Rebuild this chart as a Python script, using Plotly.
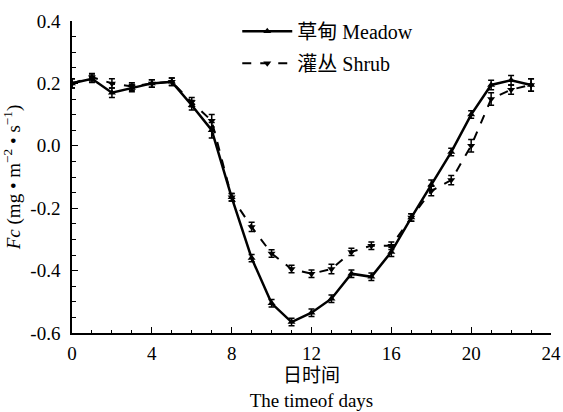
import plotly.graph_objects as go

hours = list(range(24))
meadow = [0.20, 0.215, 0.17, 0.185, 0.20, 0.205, 0.13, 0.05, -0.165, -0.36, -0.505, -0.565, -0.535, -0.49, -0.41, -0.42,
          -0.34, -0.23, -0.125, -0.02, 0.10, 0.195, 0.21, 0.195]
meadow_err = [0.015, 0.012, 0.015, 0.012, 0.012, 0.012, 0.015, 0.025, 0.012, 0.012, 0.012, 0.012, 0.012, 0.012, 0.012, 0.012,
              0.015, 0.012, 0.015, 0.012, 0.012, 0.015, 0.015, 0.02]
shrub = [0.20, 0.22, 0.20, 0.19, 0.20, 0.205, 0.14, 0.08, -0.165, -0.26, -0.345, -0.395, -0.41, -0.395, -0.34, -0.32,
         -0.32, -0.23, -0.145, -0.11, 0.0, 0.15, 0.18, 0.195]
shrub_err = [0.015, 0.012, 0.015, 0.012, 0.012, 0.012, 0.015, 0.02, 0.012, 0.015, 0.012, 0.012, 0.012, 0.015, 0.012, 0.012,
             0.012, 0.012, 0.015, 0.015, 0.02, 0.02, 0.015, 0.02]

xticks = [0, 4, 8, 12, 16, 20, 24]
yticks = [0.4, 0.2, 0.0, -0.2, -0.4, -0.6]
ytick_labels = ["0.4", "0.2", "0.0", "-0.2", "-0.4", "-0.6"]

FF = "Liberation Serif, Noto Sans CJK SC, serif"

fig = go.Figure()
fig.add_trace(go.Scatter(
    x=hours, y=meadow, name="草甸 Meadow", mode="lines+markers", legendgroup="m",
    line=dict(color="black", width=2.5),
    marker=dict(symbol="triangle-up", size=7, color="black"),
    error_y=dict(type="data", array=meadow_err, color="black", thickness=1.5, width=3),
))
fig.add_trace(go.Scatter(
    x=hours, y=shrub, name="灌丛 Shrub", mode="lines+markers", legendgroup="s",
    line=dict(color="black", width=2, dash="dash"),
    marker=dict(symbol="triangle-down", size=7, color="black"),
    error_y=dict(type="data", array=shrub_err, color="black", thickness=1.5, width=3),
))

fig.update_layout(
    width=563, height=412,
    margin=dict(l=72, r=12, t=21, b=79),
    paper_bgcolor="white", plot_bgcolor="white",
    font=dict(family=FF, size=19, color="black"),
    legend=dict(x=0.345, y=1.03, xanchor="left", yanchor="top", bgcolor="rgba(0,0,0,0)",
                font=dict(size=20, family=FF, color="black"), tracegroupgap=3, itemwidth=50),
    showlegend=True,
)
fig.update_xaxes(
    range=[0, 24], tickvals=xticks, ticktext=[str(v) for v in xticks],
    showline=True, linecolor="black", linewidth=1.5, mirror=False,
    ticks="inside", ticklen=6, tickcolor="black", showgrid=False, zeroline=False,
    minor=dict(dtick=1, ticks="inside", ticklen=3, tickcolor="black", showgrid=False),
    title=dict(text="日时间<br>The timeof days", font=dict(size=19, family=FF), standoff=6),
    tickfont=dict(size=19, family=FF), ticklabelstandoff=2, automargin=False,
)
fig.update_yaxes(
    range=[-0.6, 0.4], tickvals=yticks, ticktext=ytick_labels,
    showline=True, linecolor="black", linewidth=1.5, mirror=False,
    ticks="inside", ticklen=6, tickcolor="black", showgrid=False, zeroline=False,
    minor=dict(dtick=0.05, ticks="inside", ticklen=4, tickcolor="black", showgrid=False),
    title=dict(text="<i>Fc</i> (mg • m<sup>−2</sup> • s<sup>−1</sup>)", font=dict(size=19, family=FF), standoff=6),
    tickfont=dict(size=19, family=FF), ticklabelstandoff=6, automargin=False,
)

fig.write_html("out.html")
